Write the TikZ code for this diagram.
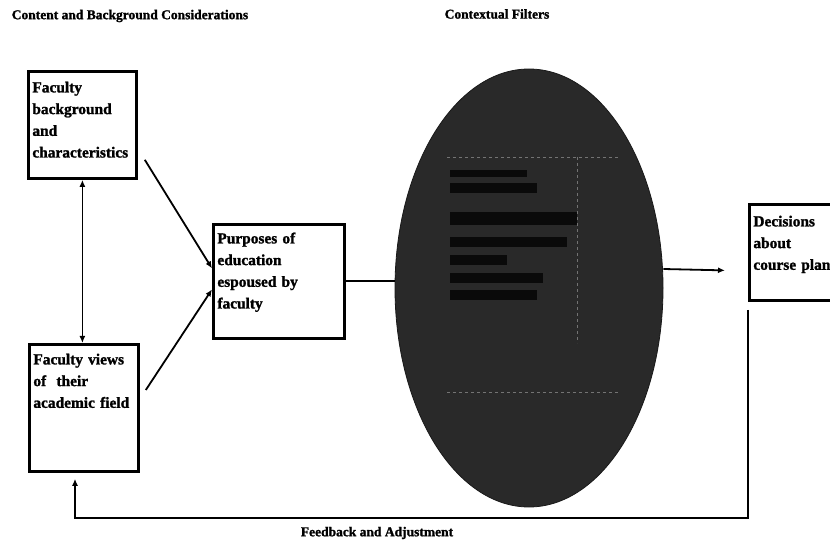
\documentclass[tikz,border=0pt]{standalone}
\usepackage{fontspec}
\setmainfont{Liberation Serif}[BoldFeatures={FakeBold=1.4}]
\usetikzlibrary{arrows.meta,positioning,shapes.geometric}

\begin{document}
\begin{tikzpicture}[x=1pt,y=1pt,>={Latex[length=7pt,width=6pt]},
factor/.style={rectangle,draw,line width=2.8pt,anchor=north west,align=left,inner xsep=4pt,inner ysep=0pt,font=\bfseries\fontsize{15.4}{21.7}\selectfont},
filter/.style={ellipse,fill=black!84,draw=black!90,thick,minimum width=268pt,minimum height=438pt,inner sep=0pt},
heading/.style={font=\bfseries\fontsize{13.5}{15}\selectfont,inner sep=0pt},
paths/.style={->,line width=1.8pt},
link/.style={line width=1.8pt},
mutual/.style={<->,line width=1.8pt},
feedback/.style={->,line width=2.4pt},
ghost/.style={black!55,dashed,thin}
]
\useasboundingbox (0,0) rectangle (830,544);

%% Nodes   %%%%%%%%%%%%%%%%%%%%%%%%%%%%%%%%%%%%%%%%%%%%%%%%%%%%%%%%%%%%%%%%%%%%%%%

%% Ueberschriften
\node [heading] (CBC) at (130,528) {Content and Background Considerations};
\node [heading] (CTX) at (497,530) {Contextual Filters};
\node [heading] (FBA) at (377,11)  {Feedback and Adjustment};

%% Kaesten links
\node [factor,text width=100pt,text height=21pt,text depth=86pt]  (FB) at (27,474)  {Faculty\\background\\and\\characteristics};
\node [factor,text width=101pt,text height=20pt,text depth=107pt] (FV) at (28,201)  {Faculty views\\of\ \ their\\academic field};

%% Zweck
\node [factor,text width=123pt,text height=19pt,text depth=95pt]  (PE) at (212,321) {Purposes of\\education\\espoused by\\faculty};

%% Filter
\node [filter] (CF) at (529,256) {};

%% Entscheidung
\node [factor,text width=102pt,text height=22pt,text depth=74pt]  (DC) at (748,341) {Decisions\\about\\course plan};

%% Innenleben Filter
\foreach \ya/\yb/\xr in {374/367/527, 361/351/537, 332/319/577, 307/297/567, 289/279/507, 271/261/543, 254/244/537}
\fill [black!96] (450,\yb) rectangle (\xr,\ya);
\draw [ghost] (447,387) -- (620,387);
\draw [ghost] (447,152) -- (620,152);
\draw [ghost] (577,387) -- (577,201);

%% Pfade %%%%%%%%%%%%%%%%%%%%%%%%%%%%%%%%%%%%%%%%%%%%%%%%%%%%%%%%%%%%%%%%%%%%%%%%%%%

\draw [mutual] (FB.south) -- (FB.south |- FV.north);

\draw [paths] ([shift={(7,20)}]FB.south east) -- ([yshift=13pt]PE.west);
\draw [paths] ([shift={(6,-47)}]FV.north east) -- ([yshift=-8pt]PE.west);

\draw [link] (PE.east) -- (PE.east -| CF.west);
\draw [paths] ([yshift=19pt]CF.east) -- ([shift={(-23,-18)}]DC.west);

%% Rueckkopplung
\coordinate (FBL) at (75,26);
\draw [feedback] ([yshift=-8pt]DC.south west) |- (FBL) -- ([shift={(47,-6)}]FV.south west);

\end{tikzpicture}
\end{document}
